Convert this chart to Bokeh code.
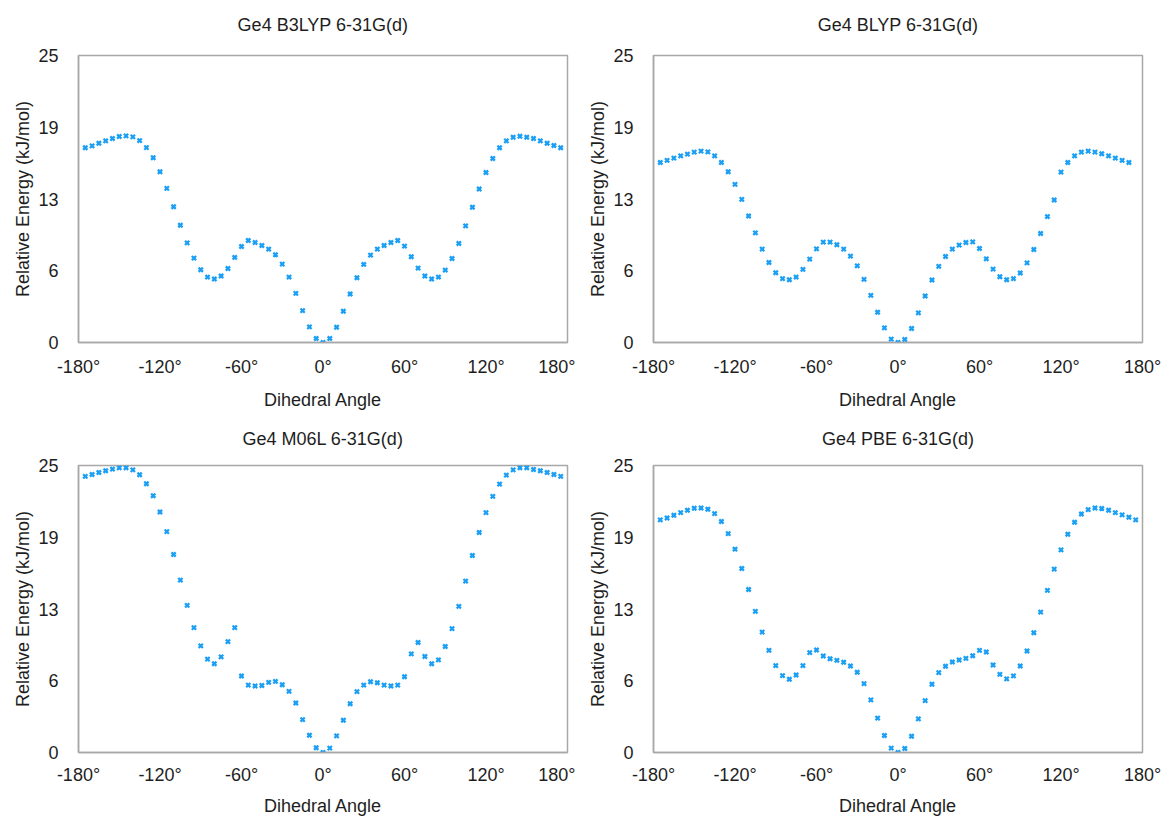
from bokeh.plotting import figure
from bokeh.layouts import gridplot
from bokeh.models import Range1d, FixedTicker, ColumnDataSource, Title
from bokeh.embed import file_html
from bokeh.resources import INLINE

# ---------------- data ----------------
angles_full = [-175, -170, -165, -160, -155, -150, -145, -140, -135, -130, -125, -120,
               -115, -110, -105, -100, -95, -90, -85, -80, -75, -70, -65, -60, -55, -50,
               -45, -40, -35, -30, -25, -20, -15, -10, -5, 0, 5, 10, 15, 20, 25, 30, 35,
               40, 45, 50, 55, 60, 65, 70, 75, 80, 85, 90, 95, 100, 105, 110, 115, 120,
               125, 130, 135, 140, 145, 150, 155, 160, 165, 170, 175]
angles_blyp = [-175, -170, -165, -160, -155, -150, -145, -140, -135, -130, -125, -120,
               -115, -110, -105, -100, -95, -90, -85, -80, -75, -70, -65, -60, -55, -50,
               -45, -40, -35, -30, -25, -20, -15, -10, -5, 0, 5, 10, 15, 20, 25, 30, 35,
               40, 45, 50, 55, 60, 65, 70, 75, 80, 85, 90, 95, 100, 105, 110, 115, 120,
               125, 130, 135, 140, 145, 150, 155, 160, 165, 170]

energy_b3lyp = [16.96, 17.13, 17.36, 17.56, 17.77, 17.94, 18.00, 17.91, 17.59, 16.98, 16.09,
                14.87, 13.43, 11.83, 10.21, 8.68, 7.35, 6.34, 5.70, 5.53, 5.79, 6.45, 7.41,
                8.36, 8.88, 8.71, 8.45, 8.13, 7.64, 6.83, 5.70, 4.28, 2.78, 1.36, 0.35,
                0.00, 0.35, 1.33, 2.72, 4.22, 5.64, 6.80, 7.61, 8.13, 8.45, 8.71, 8.88, 8.39,
                7.47, 6.48, 5.79, 5.53, 5.70, 6.31, 7.32, 8.62, 10.16, 11.78, 13.37, 14.81,
                16.03, 16.96, 17.56, 17.88, 17.97, 17.88, 17.77, 17.56, 17.36, 17.16, 16.96]

energy_blyp = [15.68, 15.86, 16.06, 16.26, 16.41, 16.58, 16.67, 16.61, 16.26, 15.68, 14.87,
               13.77, 12.47, 11.02, 9.55, 8.13, 6.97, 6.08, 5.56, 5.47, 5.70, 6.37, 7.26,
               8.16, 8.74, 8.74, 8.51, 8.13, 7.52, 6.68, 5.50, 4.11, 2.63, 1.27, 0.29,
               0.00, 0.26, 1.22, 2.58, 4.05, 5.44, 6.63, 7.49, 8.13, 8.48, 8.71, 8.77, 8.19,
               7.29, 6.39, 5.73, 5.47, 5.56, 6.05, 6.94, 8.10, 9.49, 10.97, 12.41, 14.84,
               15.68, 16.26, 16.58, 16.67, 16.58, 16.44, 16.26, 16.06, 15.86, 15.68]

energy_m06l = [24.05, 24.22, 24.39, 24.54, 24.68, 24.80, 24.80, 24.62, 24.19, 23.41, 22.37,
               20.95, 19.24, 17.25, 15.02, 12.82, 10.88, 9.29, 8.13, 7.73, 8.33, 9.66, 10.88,
               6.66, 5.87, 5.79, 5.84, 6.11, 6.19, 5.90, 5.32, 4.31, 2.86, 1.50, 0.41,
               0.00, 0.38, 1.45, 2.81, 4.25, 5.30, 5.87, 6.16, 6.08, 5.87, 5.79, 5.87, 6.60,
               8.59, 9.58, 8.36, 7.73, 8.07, 9.23, 10.79, 12.73, 14.93, 17.16, 19.16, 20.89,
               22.31, 23.38, 24.16, 24.62, 24.80, 24.80, 24.65, 24.54, 24.39, 24.22, 24.05]

energy_pbe = [20.26, 20.43, 20.67, 20.90, 21.10, 21.28, 21.30, 21.19, 20.81, 20.12, 19.07,
              17.71, 16.03, 14.20, 12.29, 10.49, 8.90, 7.57, 6.70, 6.38, 6.75, 7.57, 8.70,
              8.93, 8.41, 8.17, 8.03, 7.86, 7.54, 6.99, 6.00, 4.58, 2.99, 1.48, 0.38,
              0.00, 0.35, 1.42, 2.93, 4.52, 5.94, 6.96, 7.51, 7.88, 8.06, 8.20, 8.43, 8.90,
              8.75, 7.62, 6.81, 6.41, 6.67, 7.54, 8.84, 10.43, 12.23, 14.12, 15.97, 17.65,
              19.01, 20.06, 20.78, 21.16, 21.30, 21.25, 21.10, 20.90, 20.70, 20.49, 20.26]

titles = ["Ge4 B3LYP 6-31G(d)", "Ge4 BLYP 6-31G(d)", "Ge4 M06L 6-31G(d)", "Ge4 PBE 6-31G(d)"]

x_ticks = [-180, -120, -60, 0, 60, 120, 180]
x_tick_labels = ["-180°", "-120°", "-60°", "0°", "60°", "120°", "180°"]
y_ticks = [0, 6.25, 12.5, 18.75, 25]
y_tick_labels = ["0", "6", "13", "19", "25"]

x_label = "Dihedral Angle"
y_label = "Relative Energy (kJ/mol)"

# ---------------- styling ----------------
FONT = "Liberation Sans"
TXT = "#1e1e1e"
GRAY = "#a8a8a8"
MARK = "#1a9ff5"
FS = "18px"


def make_panel(title, xs, ys, width, right, top, bottom, gap_px, lab_so, axl_so):
    p = figure(width=width, height=top + 288 + bottom, output_backend="svg",
               toolbar_location=None,
               x_range=Range1d(-180, 180), y_range=Range1d(0, 25),
               min_border_left=78, min_border_right=right,
               min_border_top=top, min_border_bottom=bottom)
    # spacer between title and frame (closest to the frame), then the title
    p.add_layout(Title(text=" ", text_font_size=gap_px, standoff=0), "above")
    p.add_layout(Title(text=title, align="center", text_font=FONT, text_font_size=FS,
                       text_font_style="normal", text_color=TXT, standoff=0), "above")

    p.xgrid.visible = False
    p.ygrid.visible = False
    p.outline_line_color = GRAY
    p.outline_line_width = 1.5

    p.xaxis.ticker = FixedTicker(ticks=x_ticks)
    p.xaxis.major_label_overrides = {t: l for t, l in zip(x_ticks, x_tick_labels)}
    p.yaxis.ticker = FixedTicker(ticks=y_ticks)
    p.yaxis.major_label_overrides = {t: l for t, l in zip(y_ticks, y_tick_labels)}
    p.xaxis.axis_label = x_label
    p.yaxis.axis_label = y_label

    for ax in (p.xaxis, p.yaxis):
        ax.axis_line_color = GRAY
        ax.axis_line_width = 1.5
        ax.major_tick_line_color = None
        ax.minor_tick_line_color = None
        ax.major_label_text_font = FONT
        ax.major_label_text_font_size = FS
        ax.major_label_text_color = TXT
        ax.axis_label_text_font = FONT
        ax.axis_label_text_font_size = FS
        ax.axis_label_text_font_style = "normal"
        ax.axis_label_text_color = TXT
    p.xaxis.major_label_standoff = lab_so
    p.xaxis.axis_label_standoff = axl_so
    p.yaxis.major_label_standoff = 14
    p.yaxis.axis_label_standoff = 2

    src = ColumnDataSource(dict(x=xs, y=ys))
    p.scatter("x", "y", source=src, marker="x", size=6, line_width=2.3,
              line_color=MARK)
    return p


p1 = make_panel(titles[0], angles_full, energy_b3lyp, 575, 8, 55, 69, "17px", 8, 10)
p2 = make_panel(titles[1], angles_blyp, energy_blyp, 587, 20, 55, 69, "17px", 8, 10)
p3 = make_panel(titles[2], angles_full, energy_m06l, 575, 8, 53, 65, "13px", 6, 8)
p4 = make_panel(titles[3], angles_full, energy_pbe, 587, 20, 53, 65, "13px", 6, 8)

grid = gridplot([[p1, p2], [p3, p4]], toolbar_location=None)

open("out.html", "w").write(file_html(grid, INLINE))
